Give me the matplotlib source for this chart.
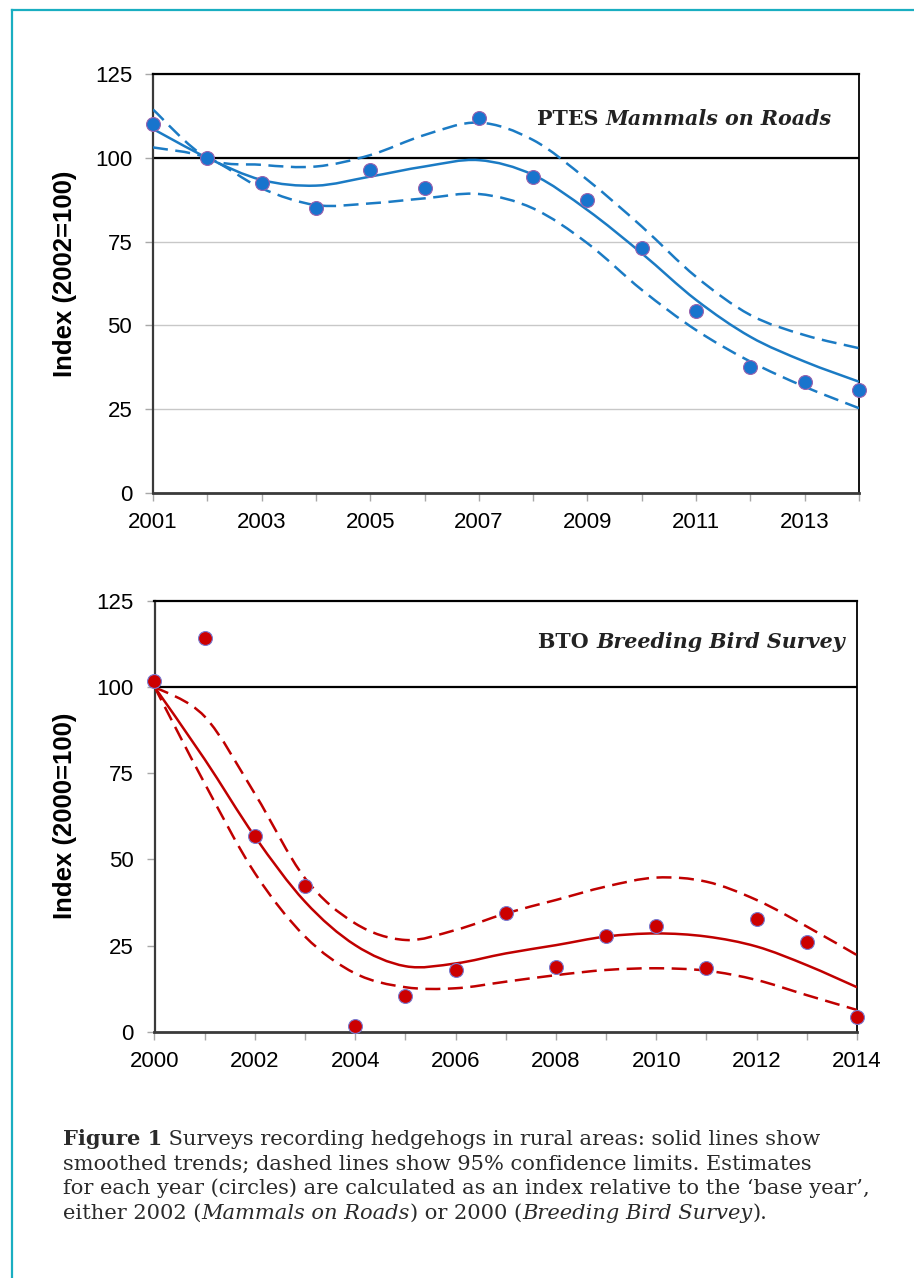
import numpy as np
import matplotlib
matplotlib.use('Agg')
import matplotlib.pyplot as plt
from matplotlib.path import Path
from matplotlib.patches import PathPatch
from matplotlib.lines import Line2D

plt.rcParams['font.family'] = ['Liberation Sans', 'DejaVu Sans']

# ---------------- data ----------------
mor_years = list(range(2001, 2015))
mor_index = [110, 100, 92.4, 85, 96.4, 91, 112, 94.4, 87.4, 73, 54.2, 37.5, 33, 30.8]
mor_trend = [108.6, 100, 93.4, 91.7, 94.4, 97.4, 99.3, 94.9, 84.4, 71.5, 57.6, 46.6, 39.2, 33.2]
mor_upper = [114.4, 100, 97.9, 97.4, 100.8, 106.8, 110.5, 105.3, 93.4, 79.5, 64.5, 53.1, 47.1, 43.2]
mor_lower = [103.1, 100, 90.9, 85.9, 86.4, 87.9, 89.2, 84.9, 74.5, 60.6, 48.6, 39.2, 31.7, 25.3]
mor_label_years = [2001, 2003, 2005, 2007, 2009, 2011, 2013]

bbs_years = list(range(2000, 2015))
bbs_index = [101.7, 114.1, 56.7, 42.2, 1.6, 10.4, 17.9, 34.3, 18.9, 27.8, 30.7, 18.6, 32.6, 26.1, 4.2]
bbs_trend = [100, 79, 56.6, 37.7, 25.1, 19, 19.8, 22.7, 25.1, 27.6, 28.5, 27.6, 24.7, 19.3, 12.9]
bbs_upper = [100, 91.4, 69, 44.5, 31.4, 26.6, 29.5, 34.3, 38.2, 42.1, 44.7, 43.5, 38.2, 30.5, 22.2]
bbs_lower = [100, 72, 46, 27.6, 16.9, 12.9, 12.6, 14.5, 16.4, 17.9, 18.4, 17.7, 15, 10.6, 6.3]
bbs_label_years = [2000, 2002, 2004, 2006, 2008, 2010, 2012, 2014]

y_ticks = [0, 25, 50, 75, 100, 125]
base_level = 100

title_top = [("PTES ", 'bold', 'normal'), ("Mammals on Roads", 'bold', 'italic')]
title_bot = [("BTO ", 'bold', 'normal'), ("Breeding Bird Survey", 'bold', 'italic')]
ylabel_top = "Index (2002=100)"
ylabel_bot = "Index (2000=100)"

caption = [
    [("Figure 1", 'bold', 'normal'), (" Surveys recording hedgehogs in rural areas: solid lines show", 'normal', 'normal')],
    [("smoothed trends; dashed lines show 95% confidence limits. Estimates", 'normal', 'normal')],
    [("for each year (circles) are calculated as an index relative to the \u2018base year\u2019,", 'normal', 'normal')],
    [("either 2002 (", 'normal', 'normal'), ("Mammals on Roads", 'normal', 'italic'),
     (") or 2000 (", 'normal', 'normal'), ("Breeding Bird Survey", 'normal', 'italic'),
     (").", 'normal', 'normal')],
]

# ---------------- figure ----------------
W, H, DPI = 914, 1278, 100
fig = plt.figure(figsize=(W / DPI, H / DPI), dpi=DPI, facecolor='white')
renderer = fig.canvas.get_renderer()

def smooth_path(x, y):
    pts = np.column_stack([x, y]).astype(float)
    n = len(pts)
    verts = [pts[0]]
    codes = [Path.MOVETO]
    for i in range(n - 1):
        p0 = pts[i - 1] if i > 0 else pts[i]
        p1 = pts[i]
        p2 = pts[i + 1]
        p3 = pts[i + 2] if i + 2 < n else pts[i + 1]
        verts += [p1 + (p2 - p0) / 6.0, p2 - (p3 - p1) / 6.0, p2]
        codes += [Path.CURVE4] * 3
    return Path(verts, codes)

def add_curve(ax, x, y, color, dashed):
    ls = (0, (6, 3)) if dashed else '-'
    patch = PathPatch(smooth_path(x, y), fill=False, edgecolor=color, lw=1.8,
                      linestyle=ls, capstyle='butt', zorder=3)
    ax.add_patch(patch)

def style_axes(ax, years, label_years, ylabel, grid, lab_xy):
    ax.set_xlim(years[0], years[-1])
    ax.set_ylim(y_ticks[0], y_ticks[-1])
    ax.set_yticks(y_ticks)
    ax.set_xticks(years)
    ax.set_xticklabels([str(y) if y in label_years else '' for y in years])
    ax.tick_params(axis='both', direction='out', length=6, width=1, color='#a8a8a8',
                   labelsize=16, labelcolor='black')
    ax.tick_params(axis='x', pad=8)
    ax.tick_params(axis='y', pad=9)
    if grid:
        ax.yaxis.grid(True, color='#c8c8c8', lw=1)
        ax.set_axisbelow(True)
    ax.axhline(base_level, color='black', lw=1.6, zorder=2)
    ax.spines['top'].set_color('black'); ax.spines['top'].set_linewidth(1.6)
    ax.spines['right'].set_color('black'); ax.spines['right'].set_linewidth(1.3)
    ax.spines['left'].set_color('#3a3a3a'); ax.spines['left'].set_linewidth(1.6)
    ax.spines['bottom'].set_color('#3a3a3a'); ax.spines['bottom'].set_linewidth(2.0)
    ax.set_ylabel(ylabel, fontsize=18.5, fontweight='bold')
    ax.yaxis.set_label_coords(*lab_xy)

def text_width(s, **kw):
    t1 = fig.text(0, 0, '|' + s + '|', **kw)
    t2 = fig.text(0, 0, '||', **kw)
    w = t1.get_window_extent(renderer).width - t2.get_window_extent(renderer).width
    t1.remove(); t2.remove()
    return w

def runs_width(runs, size, family):
    return sum(text_width(s, fontsize=size, fontweight=wt, fontstyle=st, family=family)
               for s, wt, st in runs)

def draw_runs(runs, x_px, y_px, size, family, ha='left', color='#222222'):
    total = runs_width(runs, size, family)
    x = x_px - total if ha == 'right' else x_px
    for s, wt, st in runs:
        fig.text(x / W, 1 - y_px / H, s, fontsize=size, fontweight=wt, fontstyle=st,
                 family=family, color=color, ha='left', va='baseline')
        x += text_width(s, fontsize=size, fontweight=wt, fontstyle=st, family=family)

def fit_size(runs, target, family, base=12.0):
    return base * target / runs_width(runs, base, family)

serif = ['DejaVu Serif']

# ---- top panel ----
ax1 = fig.add_axes([153 / W, 1 - 493 / H, 706 / W, 419 / H])
style_axes(ax1, mor_years, mor_label_years, ylabel_top, True, (-0.108, 0.523))
blue = '#1b7bc4'
add_curve(ax1, mor_years, mor_trend, blue, False)
add_curve(ax1, mor_years, mor_upper, blue, True)
add_curve(ax1, mor_years, mor_lower, blue, True)
ax1.plot(mor_years, mor_index, 'o', ms=10, mfc='#1874cd', mec='#9a62ae', mew=0.8,
         zorder=5, clip_on=False)

# ---- bottom panel ----
ax2 = fig.add_axes([154.5 / W, 1 - 1031.7 / H, 702.5 / W, 431 / H])
style_axes(ax2, bbs_years, bbs_label_years, ylabel_bot, False, (-0.110, 0.5))
red = '#c00000'
add_curve(ax2, bbs_years, bbs_trend, red, False)
add_curve(ax2, bbs_years, bbs_upper, red, True)
add_curve(ax2, bbs_years, bbs_lower, red, True)
ax2.plot(bbs_years, bbs_index, 'o', ms=10, mfc='#cc0000', mec='#7a7ad0', mew=0.8,
         zorder=5, clip_on=False)

# ---- panel titles ----
ts = fit_size(title_top, 295, serif)
draw_runs(title_top, 832, 125, ts, serif, ha='right')
draw_runs(title_bot, 845, 648, ts, serif, ha='right')

# ---- caption ----
cs = fit_size(caption[0], 756, serif)
for i, line in enumerate(caption):
    draw_runs(line, 63, 1145 + i * 24.6, cs, serif, ha='left', color='#2a2a2a')

# ---- frame ----
teal = '#1aaec1'
fig.add_artist(Line2D([12 / W, 1.0], [1 - 10 / H, 1 - 10 / H], color=teal, lw=1.6,
                      transform=fig.transFigure))
fig.add_artist(Line2D([12 / W, 12 / W], [1 - 10 / H, 0.0], color=teal, lw=1.6,
                      transform=fig.transFigure))

fig.savefig('out.png', dpi=DPI, facecolor='white')
